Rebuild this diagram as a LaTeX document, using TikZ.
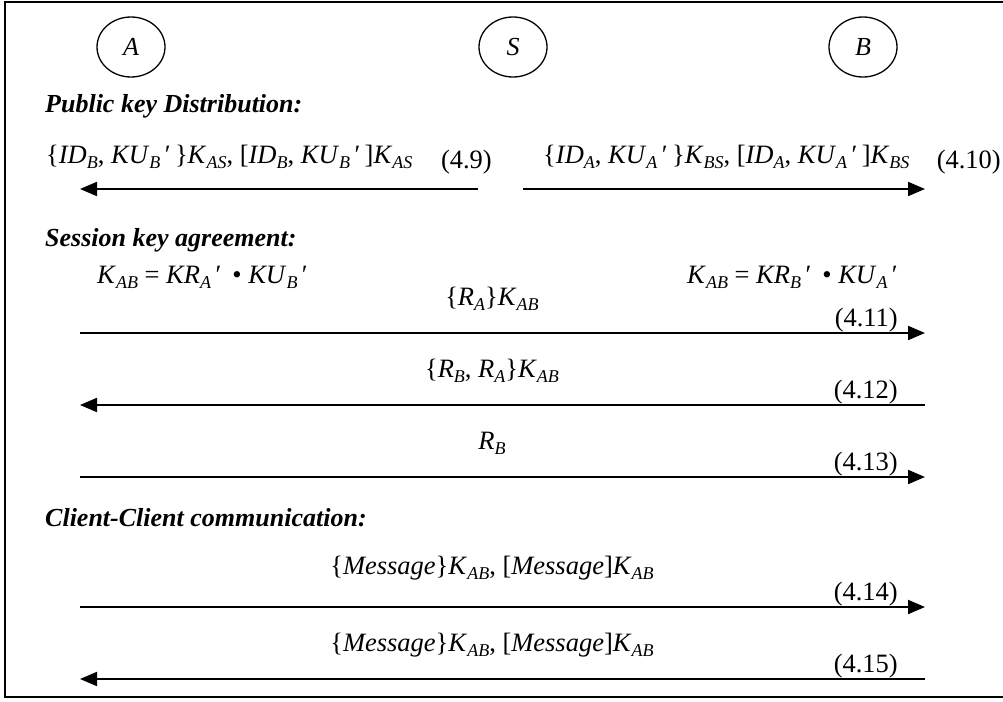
\documentclass[tikz,border=0pt]{standalone}
\usepackage{fontspec}
\setmainfont{Liberation Serif}
\usetikzlibrary{arrows.meta,shapes.geometric}
\newcommand\sbx[1]{\raisebox{-0.22em}{\scalebox{0.68}{\itshape #1}}}
\newcommand\prm{\,′\,}
\newcommand\iv[1]{\textit{#1}}
\begin{document}
\begin{tikzpicture}[x=1pt,y=-1pt,
  txt/.style={font=\fontsize{26.5}{30}\selectfont, inner sep=0pt},
  head/.style={inner sep=0pt, anchor=base west, font=\fontsize{26}{30}\selectfont\bfseries\itshape},
  msg/.style={-{Triangle[length=17pt,width=14pt]}, line width=2pt},
  party/.style={draw, line width=1.3pt, ellipse, minimum width=68pt, minimum height=60pt, inner sep=0pt, font=\fontsize{26}{30}\selectfont\itshape}
]
\useasboundingbox (0,0) rectangle (1003,701);
\draw[line width=2pt] (1003,2) -- (5,2) -- (5,697) -- (1003,697);

\node[party] (A) at (131,47) {A};
\node[party] (S) at (513,47) {S};
\node[party] (B) at (863,47) {B};

% Public key distribution
\node[head] (h1) at (45,112) {Public key Distribution:};
\node[txt, anchor=base west] (m9) at (46,163) {\{\iv{ID}\sbx{B}, \iv{KU}\sbx{B}\prm\}\iv{K}\sbx{AS}, [\iv{ID}\sbx{B}, \iv{KU}\sbx{B}\prm]\iv{K}\sbx{AS}};
\node[txt, anchor=base east] (n9) at (492,168) {(4.9)};
\coordinate (a9s) at (478,189);
\coordinate (a9e) at (80,189);
\draw[msg] (a9s) -- (a9e);

\node[txt, anchor=base west] (m10) at (543,163) {\{\iv{ID}\sbx{A}, \iv{KU}\sbx{A}\prm\}\iv{K}\sbx{BS}, [\iv{ID}\sbx{A}, \iv{KU}\sbx{A}\prm]\iv{K}\sbx{BS}};
\node[txt, anchor=base east] (n10) at (1001,168) {(4.10)};
\coordinate (a10s) at (523,189);
\coordinate (a10e) at (925,189);
\draw[msg] (a10s) -- (a10e);

% Session key agreement
\node[head] (h2) at (45,246) {Session key agreement:};
\node[txt, anchor=base west] (fa) at (97,283) {\iv{K}\sbx{AB} = \iv{KR}\sbx{A}\prm\ • \iv{KU}\sbx{B}\prm};
\node[txt, anchor=base west] (fb) at (687,283) {\iv{K}\sbx{AB} = \iv{KR}\sbx{B}\prm\ • \iv{KU}\sbx{A}\prm};

\node[txt, anchor=base] (m11) at (492,305) {\{\iv{R}\sbx{A}\}\iv{K}\sbx{AB}};
\node[txt, anchor=base east] (n11) at (898,326) {(4.11)};
\coordinate (a11s) at (80,333);
\coordinate (a11e) at (925,333);
\draw[msg] (a11s) -- (a11e);

\node[txt, anchor=base] (m12) at (492,377) {\{\iv{R}\sbx{B}, \iv{R}\sbx{A}\}\iv{K}\sbx{AB}};
\node[txt, anchor=base east] (n12) at (898,398) {(4.12)};
\coordinate (a12s) at (925,405);
\coordinate (a12e) at (80,405);
\draw[msg] (a12s) -- (a12e);

\node[txt, anchor=base] (m13) at (492,449) {\iv{R}\sbx{B}};
\node[txt, anchor=base east] (n13) at (898,470) {(4.13)};
\coordinate (a13s) at (80,477);
\coordinate (a13e) at (925,477);
\draw[msg] (a13s) -- (a13e);

% Client-Client communication
\node[head] (h3) at (45,526) {Client-Client communication:};
\node[txt, anchor=base] (m14) at (492,574) {\{\iv{Message}\}\iv{K}\sbx{AB}, [\iv{Message}]\iv{K}\sbx{AB}};
\node[txt, anchor=base east] (n14) at (898,600) {(4.14)};
\coordinate (a14s) at (80,607);
\coordinate (a14e) at (925,607);
\draw[msg] (a14s) -- (a14e);

\node[txt, anchor=base] (m15) at (492,651) {\{\iv{Message}\}\iv{K}\sbx{AB}, [\iv{Message}]\iv{K}\sbx{AB}};
\node[txt, anchor=base east] (n15) at (898,672) {(4.15)};
\coordinate (a15s) at (925,679);
\coordinate (a15e) at (80,679);
\draw[msg] (a15s) -- (a15e);
\end{tikzpicture}
\end{document}
